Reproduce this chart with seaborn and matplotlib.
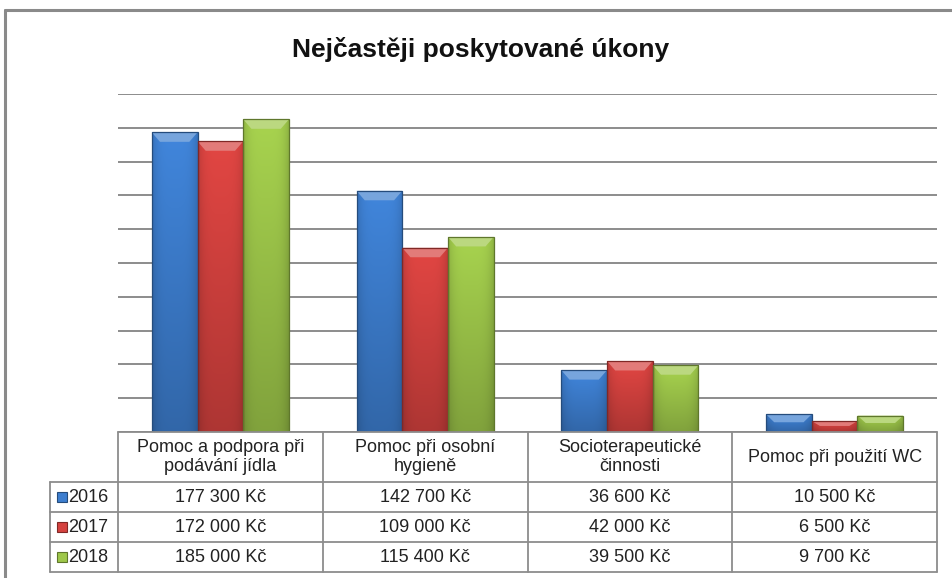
import numpy as np
import pandas as pd
import matplotlib
matplotlib.use('Agg')
import matplotlib.pyplot as plt
import matplotlib.colors as mcolors
from matplotlib.patches import Polygon
from matplotlib.lines import Line2D
import seaborn as sns

# data
categories = ['Pomoc a podpora při\npodávání jídla', 'Pomoc při osobní\nhygieně',
              'Socioterapeutické\nčinnosti', 'Pomoc při použití WC']
years = ['2016', '2017', '2018']
values_2016 = [177300, 142700, 36600, 10500]
values_2017 = [172000, 109000, 42000, 6500]
values_2018 = [185000, 115400, 39500, 9700]
colors = ['#3D7ECF', '#D5423F', '#9EC74A']
title = 'Nejčastěji poskytované úkony'
y_max = 200000
y_step = 20000

GRID = '#8c8c8c'


def fmt_kc(v):
    return f'{v:,}'.replace(',', ' ') + ' Kč'


def tint(c, f):
    # f < 1 -> tmavší, f > 1 -> světlejší
    rgb = np.array(mcolors.to_rgb(c))
    if f <= 1:
        return np.clip(rgb * f, 0, 1)
    return np.clip(rgb + (1 - rgb) * (f - 1), 0, 1)


df = pd.DataFrame({
    'kategorie': categories * 3,
    'rok': np.repeat(years, len(categories)),
    'hodnota': values_2016 + values_2017 + values_2018,
})

sns.set_theme(style='white')
plt.rcParams['font.family'] = ['Liberation Sans', 'DejaVu Sans']

W, H = 953, 578
fig = plt.figure(figsize=(W / 100, H / 100), dpi=100)

# hlavní graf
ax = fig.add_axes([118 / W, 1 - 432 / H, (937 - 118) / W, 338 / H])
sns.barplot(data=df, x='kategorie', y='hodnota', hue='rok', palette=colors,
            width=0.67, gap=0, saturation=1, legend=False, ax=ax)

ax.set_xlim(-0.5, len(categories) - 0.5)
ax.set_ylim(0, y_max)
ax.set_yticks(np.arange(0, y_max + 1, y_step))
ax.yaxis.grid(True, color=GRID, lw=1.4)
ax.set_axisbelow(True)
ax.tick_params(left=False, bottom=False, labelleft=False, labelbottom=False)
ax.set_xlabel('')
ax.set_ylabel('')
sns.despine(ax=ax, left=True, bottom=True)

# přechod a zkosení na sloupcích (jako v Excelu)
ny, nx = 64, 32
vfac = np.linspace(1.04, 0.80, ny)[:, None]
hx = np.linspace(-1, 1, nx)
hfac = (1.02 - 0.14 * hx ** 4)[None, :]
fac = vfac * hfac
for p in list(ax.patches):
    base = p.get_facecolor()[:3]
    x0, w = p.get_x(), p.get_width()
    y0, h = p.get_y(), p.get_height()
    rgb = np.array(base)
    img = np.clip(rgb[None, None, :] * fac[:, :, None], 0, 1)
    im = ax.imshow(img, extent=[x0, x0 + w, y0, y0 + h], aspect='auto',
                   origin='upper', interpolation='bilinear', zorder=2.5)
    im.set_clip_path(p)
    top = y0 + h
    t = min(5600, h * 0.45)
    d = 0.04
    bevel = Polygon([(x0, top), (x0 + w, top), (x0 + w - d, top - t), (x0 + d, top - t)],
                    closed=True, facecolor=tint(base, 1.3), edgecolor='none', zorder=2.7)
    ax.add_patch(bevel)
    p.set_facecolor('none')
    p.set_edgecolor(tint(base, 0.6))
    p.set_linewidth(0.9)
    p.set_zorder(3)

ax.set_xlim(-0.5, len(categories) - 0.5)
ax.set_ylim(0, y_max)
ax.set_aspect('auto')

# datová tabulka pod grafem
tax = fig.add_axes([50 / W, 1 - 572 / H, (937 - 50) / W, 140 / H])
col_px = (937 - 118) / len(categories)
x_left = -0.5 - 68 / col_px
x_right = len(categories) - 0.5
tax.set_xlim(x_left, x_right)
tax.set_ylim(0, 140)
tax.axis('off')

lkw = dict(color=GRID, lw=1.3, clip_on=False)
tax.plot([-0.5, x_right], [140, 140], **lkw)
for yy in [90, 60, 30, 0]:
    tax.plot([x_left, x_right], [yy, yy], **lkw)
for i in range(len(categories) + 1):
    tax.plot([-0.5 + i, -0.5 + i], [0, 140], **lkw)
tax.plot([x_left, x_left], [0, 90], **lkw)

txt = dict(fontsize=13, color='#222222', ha='center', va='center')
for i, cat in enumerate(categories):
    tax.text(i, 115, cat, linespacing=1.1, **txt)

series = [values_2016, values_2017, values_2018]
row_y = [75, 45, 15]
for vals, yy, yr, c in zip(series, row_y, years, colors):
    for i, v in enumerate(vals):
        tax.text(i, yy, fmt_kc(v), **txt)
    tax.plot([x_left + 12 / col_px], [yy], marker='s', markersize=7.5,
             markerfacecolor=c, markeredgecolor=tint(c, 0.6), markeredgewidth=0.8,
             clip_on=False)
    tax.text(x_left + 18 / col_px, yy, yr, fontsize=13, color='#222222',
             ha='left', va='center')

# nadpis
fig.text(481 / W, 1 - 57 / H, title, fontsize=19, fontweight='bold',
         ha='center', va='baseline', color='#111111')

# rámeček grafu
fig.add_artist(Line2D([5 / W, 5 / W], [0, 1 - 10 / H], color='#8a8a8a', lw=2.2,
                      transform=fig.transFigure))
fig.add_artist(Line2D([5 / W, 1], [1 - 10 / H, 1 - 10 / H], color='#8a8a8a', lw=2.2,
                      transform=fig.transFigure))

fig.savefig('out.png', dpi=100, facecolor='white')
